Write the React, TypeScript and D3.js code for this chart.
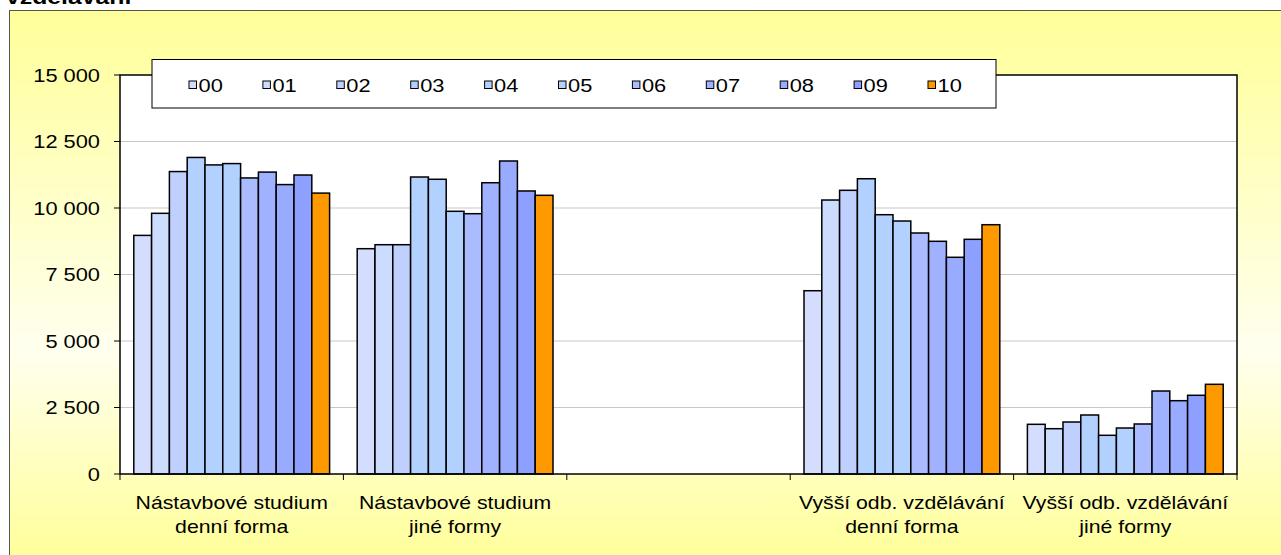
import React from "react";
import * as d3 from "d3";

const seriesNames = ["00", "01", "02", "03", "04", "05", "06", "07", "08", "09", "10"];
const seriesColors = ["#D5DDFF", "#CCDCFF", "#BFD0FF", "#B3D1FF", "#B3D1FF", "#B3D1FF", "#AABCFF", "#A0B2FF", "#99ABFF", "#8DA0FF", "#FF9900"];

const categoryLine1 = ["Nástavbové studium", "Nástavbové studium", "", "Vyšší odb. vzdělávání", "Vyšší odb. vzdělávání"];
const categoryLine2 = ["denní forma", "jiné formy", "", "denní forma", "jiné formy"];

const nastavboveDenni = [8970, 9800, 11370, 11900, 11620, 11670, 11130, 11350, 10880, 11240, 10560];
const nastavboveJine = [8470, 8620, 8620, 11165, 11080, 9876, 9786, 10950, 11767, 10640, 10477];
const prazdna: (number | null)[] = [null, null, null, null, null, null, null, null, null, null, null];
const vyssiDenni = [6890, 10300, 10665, 11100, 9748, 9511, 9060, 8748, 8147, 8823, 9372];
const vyssiJine = [1868, 1703, 1955, 2218, 1455, 1729, 1880, 3120, 2756, 2959, 3372];

const yTicks = [0, 2500, 5000, 7500, 10000, 12500, 15000];
const titleText = "vzdělávání";

const W = 1281;
const H = 555;
const SX = 1.18;
const FONT = "'Liberation Sans', Arial, sans-serif";

function T({ x, y, anchor = "start", size = 18.5, weight = "normal", children }: any) {
  return (
    <text
      transform={`translate(${x},${y}) scale(${SX},1)`}
      textAnchor={anchor}
      fontSize={size}
      fontWeight={weight}
      fontFamily={FONT}
      fill="#000"
    >
      {children}
    </text>
  );
}

export default function App() {
  const data = [nastavboveDenni, nastavboveJine, prazdna, vyssiDenni, vyssiJine];
  const left = 120, right = 1237, top = 75, bottom = 474;
  const y = d3.scaleLinear().domain([0, 15000]).range([bottom, top]);
  const x0 = d3.scaleBand<number>().domain(d3.range(categoryLine1.length)).range([left, right]);
  const x1 = d3.scaleBand<string>().domain(seriesNames).range([0, x0.bandwidth()]).paddingOuter(0.775).paddingInner(0);
  const legendX = d3.scaleLinear().domain([0, seriesNames.length - 1]).range([189, 928]);
  const fmt = (v: number) => d3.format(",")(v).replace(/,/g, " ");

  return (
    <svg width={W} height={H} style={{ position: "absolute", left: 0, top: 0, background: "#fff" }}>
      <defs>
        <linearGradient id="bg" gradientUnits="userSpaceOnUse" x1="0" y1="10" x2="0" y2="560">
          <stop offset="0" stopColor="#FFFF99" />
          <stop offset="0.62" stopColor="#FFFFEE" />
          <stop offset="1" stopColor="#FFFF99" />
        </linearGradient>
      </defs>
      <T x={6} y={4} size={21} weight="bold">{titleText}</T>
      <rect x={9.5} y={10.5} width={W} height={H} fill="url(#bg)" stroke="#555" strokeWidth={1} />
      <rect x={left} y={top} width={right - left} height={bottom - top} fill="#fff" />
      {yTicks.filter((t) => t > 0 && t < 15000).map((t) => (
        <line key={"g" + t} x1={left} x2={right} y1={y(t)} y2={y(t)} stroke="#C8C8C8" strokeWidth={1.2} />
      ))}
      {data.map((vals, ci) =>
        vals.map((v, si) =>
          v == null ? null : (
            <rect
              key={ci + "-" + si}
              x={(x0(ci) as number) + (x1(seriesNames[si]) as number)}
              y={y(v)}
              width={x1.bandwidth()}
              height={y(0) - y(v)}
              fill={seriesColors[si]}
              stroke="#000"
              strokeWidth={1.5}
            />
          )
        )
      )}
      <rect x={left} y={top} width={right - left} height={bottom - top} fill="none" stroke="#000" strokeWidth={1.5} />
      {yTicks.map((t) => (
        <g key={"t" + t}>
          <line x1={left - 6} x2={left} y1={y(t)} y2={y(t)} stroke="#000" strokeWidth={1} />
          <T x={100} y={y(t) + 6.5} anchor="end">{fmt(t)}</T>
        </g>
      ))}
      {d3.range(categoryLine1.length + 1).map((i) => {
        const xx = i < categoryLine1.length ? (x0(i) as number) : right;
        return <line key={"xt" + i} x1={xx} x2={xx} y1={bottom} y2={bottom + 6} stroke="#000" strokeWidth={1} />;
      })}
      {categoryLine1.map((c, i) => {
        const cx = (x0(i) as number) + x0.bandwidth() / 2;
        return (
          <g key={"cl" + i}>
            <T x={cx} y={509} anchor="middle" size={18}>{c}</T>
            <T x={cx} y={533} anchor="middle" size={18}>{categoryLine2[i]}</T>
          </g>
        );
      })}
      <rect x={152} y={59.5} width={844} height={48.5} fill="#fff" stroke="#000" strokeWidth={1} />
      {seriesNames.map((s, i) => (
        <g key={"lg" + s}>
          <rect x={legendX(i)} y={81} width={7.5} height={7.5} fill={seriesColors[i]} stroke="#000" strokeWidth={1} />
          <T x={legendX(i) + 9.5} y={91.5}>{s}</T>
        </g>
      ))}
    </svg>
  );
}
